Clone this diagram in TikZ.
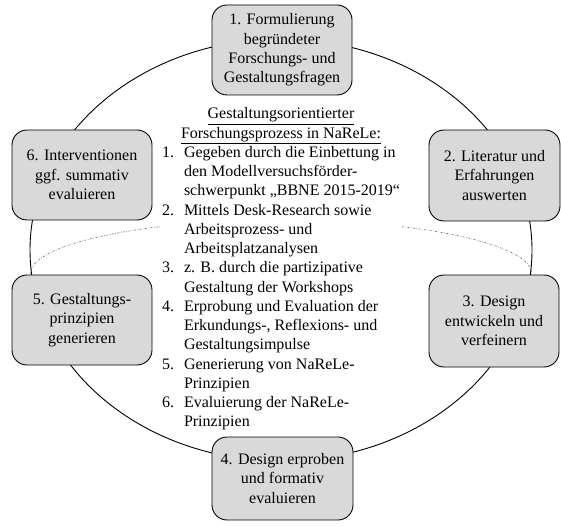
\documentclass[tikz,border=0pt]{standalone}
\usepackage{fontspec}
\setmainfont{Liberation Serif}
\usepackage{tikz}
\usetikzlibrary{positioning,calc}

\newcommand{\nr}[1]{\makebox[22pt][l]{#1}}

\begin{document}
\begin{tikzpicture}[x=1pt,y=1pt]
	\definecolor{phasegray}{RGB}{217,217,217}
	\definecolor{arcgray}{RGB}{110,110,110}
	\tikzset{
		phase/.style={
			draw=black,
			fill=phasegray,
			line width=0.9pt,
			rounded corners=15pt,
			align=center,
			inner sep=0pt,
			font=\fontsize{16}{19.25}\selectfont
		},
		cyclebd/.style={
			draw=black,
			line width=0.9pt
		},
		splitbd/.style={
			draw=arcgray,
			line width=0.6pt,
			dash pattern=on 2pt off 1.5pt on 0.6pt off 1.5pt
		}
	}
	\useasboundingbox (0,0) rectangle (561,525);
	
	% ======= Zyklus =======
	\draw[cyclebd] (281,275) ellipse [x radius=251pt, y radius=211pt];
	
	% ======= Trennbogen =======
	\coordinate (arcL) at (30,251);
	\draw[splitbd] (arcL) arc [start angle=180, end angle=0, x radius=251pt, y radius=54pt];
	
	% ======= Mitte: Forschungsprozess =======
	\node[fill=white, minimum width=240pt, inner sep=1pt, font=\fontsize{16}{19.25}\selectfont] (proc) at (281,256) {%
		\begin{tabular}{@{}l@{}l@{}}
			\multicolumn{2}{c}{\underline{Gestaltungsorientierter}}\\
			\multicolumn{2}{c}{\underline{Forschungsprozess in NaReLe:}}\\
			\nr{1.} & Gegeben durch die Einbettung in\\
			        & den Modellversuchsförder-\\
			        & schwerpunkt „BBNE 2015-2019“\\
			\nr{2.} & Mittels Desk-Research sowie\\
			        & Arbeitsprozess- und\\
			        & Arbeitsplatzanalysen\\
			\nr{3.} & z. B. durch die partizipative\\
			        & Gestaltung der Workshops\\
			\nr{4.} & Erprobung und Evaluation der\\
			        & Erkundungs-, Reflexions- und\\
			        & Gestaltungsimpulse\\
			\nr{5.} & Generierung von NaReLe-\\
			        & Prinzipien\\
			\nr{6.} & Evaluierung der NaReLe-\\
			        & Prinzipien
		\end{tabular}%
	};
	
	% ======= Phasen =======
	\node[phase, minimum width=140pt, minimum height=90pt] (ph1) at (282,475) {1. Formulierung\\begründeter\\Forschungs- und\\Gestaltungsfragen};
	\node[phase, minimum width=131pt, minimum height=91pt] (ph2) at (494.5,349.5) {2. Literatur und\\Erfahrungen\\auswerten};
	\node[phase, minimum width=130pt, minimum height=92pt] (ph3) at (494,204) {3. Design\\entwickeln und\\verfeinern};
	\node[phase, minimum width=141pt, minimum height=83pt] (ph4) at (282.5,46.5) {4. Design erproben\\und formativ\\evaluieren};
	\node[phase, minimum width=140pt, minimum height=90pt] (ph5) at (82,205) {5. Gestaltungs-\\prinzipien\\generieren};
	\node[phase, minimum width=140pt, minimum height=90pt] (ph6) at (82,350) {6. Interventionen\\ggf. summativ\\evaluieren};
\end{tikzpicture}
\end{document}
